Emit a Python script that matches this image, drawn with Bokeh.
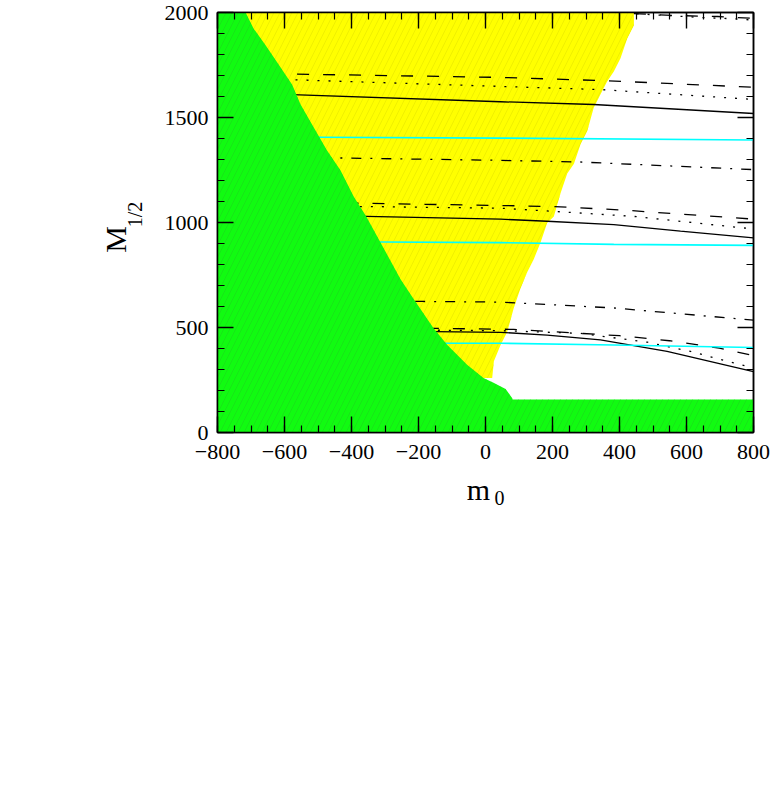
import numpy as np
from bokeh.plotting import figure
from bokeh.models import LinearAxis, SingleIntervalTicker, Range1d
from bokeh.layouts import column, row
from bokeh.core.properties import value
from bokeh.embed import file_html
from bokeh.resources import INLINE

# ---------------- data ----------------
# excluded (green) region boundary
green_m0 = [-716, -692, -657, -617, -577, -552, -513, -473, -433, -393, -356, -313,
            -254, -215, -155, -114, -55, -6, 24, 60, 80]
green_M = [2000, 1923, 1845, 1751, 1656, 1562, 1453, 1343, 1249, 1123, 1029, 904,
           731, 637, 496, 417, 323, 260, 237, 207, 163]
green_band_top = 157

# allowed (yellow) region right boundary
yel_m0 = [443, 443, 423, 403, 383, 363, 343, 323, 304, 284, 264, 244, 224, 204, 184,
          164, 144, 124, 104, 84, 65, 45, 25, 20]
yel_M = [2000, 1939, 1876, 1782, 1719, 1672, 1609, 1547, 1437, 1374, 1280, 1233, 1139,
         1029, 998, 904, 825, 762, 684, 590, 480, 417, 339, 260]

# contour lines
dash0_m0 = [443, 558, 693, 800]
dash0_M = [1995, 1986, 1981, 1972]
dot0_m0 = [451, 647, 740, 800]
dot0_M = [1994, 1976, 1970, 1964]

dash1_m0 = [-640, -617, 45, 363, 800]
dash1_M = [1710, 1708, 1691, 1675, 1644]
dot1_m0 = [-600, -582, 45, 343, 800]
dot1_M = [1681, 1680, 1648, 1633, 1586]
sol1_m0 = [-600, -577, 45, 323, 800]
sol1_M = [1610, 1609, 1575, 1562, 1519]
cyan1_m0 = [-520, -498, 45, 800]
cyan1_M = [1406, 1406, 1402, 1393]
dd1_m0 = [-490, -468, 45, 284, 800]
dd1_M = [1308, 1308, 1296, 1288, 1252]

dash2_m0 = [-415, -393, 45, 204, 403, 800]
dash2_M = [1092, 1092, 1081, 1076, 1060, 1016]
dot2_m0 = [-375, -353, 45, 204, 443, 800]
dot2_M = [1076, 1076, 1068, 1053, 1029, 969]
sol2_m0 = [-380, -356, 45, 184, 383, 582, 800]
sol2_M = [1029, 1029, 1016, 1006, 990, 959, 927]
cyan2_m0 = [-335, -313, 45, 383, 800]
cyan2_M = [907, 907, 904, 896, 891]
dd2_m0 = [-210, -189, 45, 383, 800]
dd2_M = [624, 624, 621, 593, 535]

dash3_m0 = [-175, -154, 84, 400, 549, 698, 800]
dash3_M = [496, 496, 491, 461, 437, 402, 366]
dot3_m0 = [-175, -154, 45, 284, 483, 612, 741, 800]
dot3_M = [487, 487, 485, 472, 430, 386, 331, 308]
sol3_m0 = [-175, -154, 45, 184, 343, 542, 800]
sol3_M = [480, 480, 477, 464, 441, 386, 290]
cyan3_m0 = [-135, -114, 45, 383, 800]
cyan3_M = [425, 425, 425, 417, 405]

x_ticks = [-800, -600, -400, -200, 0, 200, 400, 600, 800]
x_tick_labels = ["\u2212800", "\u2212600", "\u2212400", "\u2212200", "0", "200", "400", "600", "800"]
y_ticks = [0, 500, 1000, 1500, 2000]
y_tick_labels = ["0", "500", "1000", "1500", "2000"]

x_title, x_title_sub = "m", "0"
y_title, y_title_sub = "M", "1/2"

XMIN, XMAX, YMIN, YMAX = -800, 800, 0, 2000

# ---------------- layout sizes ----------------
FONT = "Liberation Serif"
YLAB_W = 150          # width of the y-title strip
MAIN_H = 470
XLAB_H = 60
TOTAL_W = 772

# ---------------- main figure ----------------
p = figure(width=TOTAL_W - YLAB_W, height=MAIN_H,
           x_range=Range1d(XMIN, XMAX), y_range=Range1d(YMIN, YMAX),
           output_backend="svg", toolbar_location=None, x_axis_location=None,
           y_axis_location=None, min_border_left=217 - YLAB_W, min_border_right=19,
           min_border_top=12, min_border_bottom=MAIN_H - 432)
p.grid.visible = False
p.outline_line_color = "black"
p.outline_line_width = 1.5
p.background_fill_color = "white"
p.border_fill_color = "white"

# yellow region
yx = [XMIN] + yel_m0 + [XMIN]
yy = [YMAX] + yel_M + [yel_M[-1]]
p.patch(yx, yy, fill_color="#ffff00", line_color=None,
        hatch_pattern="/", hatch_color="#e6e600", hatch_alpha=0.6, hatch_scale=12, hatch_weight=1)

# lines
def ln(xs, ys, color="black", dash="solid", w=1.3):
    p.line(xs, ys, line_color=color, line_dash=dash, line_width=w)

DASH = "12 14"
DOT = "2 9"
DD = "10 9 2 9"
ln(dash0_m0, dash0_M, dash=DASH)
ln(dot0_m0, dot0_M, dash=DOT)
ln(dash1_m0, dash1_M, dash=DASH)
ln(dot1_m0, dot1_M, dash=DOT)
ln(sol1_m0, sol1_M)
ln(cyan1_m0, cyan1_M, color="#00ffff", w=1.6)
ln(dd1_m0, dd1_M, dash=DD)
ln(dash2_m0, dash2_M, dash=DASH)
ln(dot2_m0, dot2_M, dash=DOT)
ln(sol2_m0, sol2_M)
ln(cyan2_m0, cyan2_M, color="#00ffff", w=1.6)
ln(dd2_m0, dd2_M, dash=DD)
ln(dash3_m0, dash3_M, dash=DASH)
ln(dot3_m0, dot3_M, dash=DOT)
ln(sol3_m0, sol3_M)
ln(cyan3_m0, cyan3_M, color="#00ffff", w=1.6)

# green region
gx = [XMIN] + green_m0 + [green_m0[-1], XMAX, XMAX, XMIN]
gy = [YMAX] + green_M + [green_band_top, green_band_top, YMIN, YMIN]
p.patch(gx, gy, fill_color="#11fb11", line_color=None,
        hatch_pattern="/", hatch_color="#1fcc1f", hatch_alpha=0.45, hatch_scale=12, hatch_weight=1)

# axes
def make_axis(interval, minor, labels_on, overrides):
    ax = LinearAxis(ticker=SingleIntervalTicker(interval=interval, num_minor_ticks=minor))
    ax.major_tick_in = 16
    ax.major_tick_out = 0
    ax.minor_tick_in = 7
    ax.minor_tick_out = 0
    ax.major_tick_line_width = 1.4
    ax.minor_tick_line_width = 1.2
    ax.major_tick_line_color = "black"
    ax.minor_tick_line_color = "black"
    ax.axis_line_width = 1.5
    ax.axis_line_color = "black"
    if labels_on:
        ax.major_label_text_font = FONT
        ax.major_label_text_font_size = "22px"
        ax.major_label_text_color = "black"
        ax.major_label_overrides = overrides
    else:
        ax.major_label_text_font_size = "0px"
        ax.major_label_standoff = 0
    return ax

xov = {t: s for t, s in zip(x_ticks, x_tick_labels)}
yov = {t: s for t, s in zip(y_ticks, y_tick_labels)}
xb = make_axis(200, 4, True, xov)
xb.major_label_standoff = 12
yl = make_axis(500, 5, True, yov)
yl.major_label_standoff = 9
xt = make_axis(200, 4, False, {})
yr = make_axis(500, 5, False, {})
p.add_layout(xb, "below")
p.add_layout(yl, "left")
p.add_layout(xt, "above")
p.add_layout(yr, "right")

# ---------------- title strips (real text glyphs) ----------------
def strip(w, h):
    f = figure(width=w, height=h, x_range=Range1d(0, w), y_range=Range1d(0, h),
               output_backend="svg", toolbar_location=None, x_axis_location=None,
               y_axis_location=None, min_border=0)
    f.grid.visible = False
    f.outline_line_color = None
    f.background_fill_color = "white"
    f.border_fill_color = "white"
    return f

ylab = strip(YLAB_W, MAIN_H)
ylab.text(x=[115], y=[MAIN_H - 254], text=[y_title], angle=np.pi / 2,
          text_font=value(FONT), text_font_size="30px", text_color="black",
          text_align="center", text_baseline="middle")
ylab.text(x=[134], y=[MAIN_H - 226], text=[y_title_sub], angle=np.pi / 2,
          text_font=value(FONT), text_font_size="20px", text_color="black",
          text_align="center", text_baseline="middle")

xlab = strip(TOTAL_W, XLAB_H)
xlab.text(x=[478], y=[XLAB_H - (489 - MAIN_H)], text=[x_title],
          text_font=value(FONT), text_font_size="30px", text_color="black",
          text_align="center", text_baseline="middle")
xlab.text(x=[499], y=[XLAB_H - (497 - MAIN_H)], text=[x_title_sub],
          text_font=value(FONT), text_font_size="20px", text_color="black",
          text_align="center", text_baseline="middle")

layout = column(row(ylab, p), xlab)
open("out.html", "w").write(file_html(layout, INLINE))
